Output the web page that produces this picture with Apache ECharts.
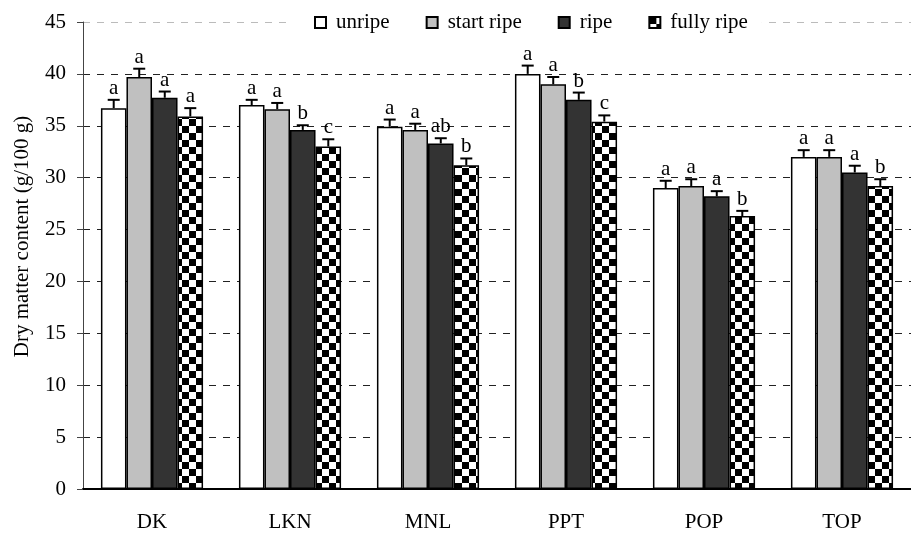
<!DOCTYPE html>
<html>
<head>
<meta charset="utf-8">
<style>
  html, body { margin: 0; padding: 0; background: #fff; }
  #chart { width: 911px; height: 533px; }
</style>
<script src="https://cdn.jsdelivr.net/npm/echarts@6/dist/echarts.min.js"></script>
</head>
<body>
<div id="chart"></div>
<script>
// Cultivars along the x axis
const categories = ['DK', 'LKN', 'MNL', 'PPT', 'POP', 'TOP'];
const stages = ['unripe', 'start ripe', 'ripe', 'fully ripe'];

// Mean dry matter content (g/100 g) per ripening stage
const unripe    = [36.7, 37.0, 34.9, 40.0, 29.0, 32.0];
const startRipe = [39.7, 36.6, 34.6, 39.0, 29.2, 32.0];
const ripe      = [37.7, 34.6, 33.3, 37.5, 28.2, 30.5];
const fullyRipe = [35.9, 33.0, 31.2, 35.4, 26.3, 29.2];

// Standard errors (upper whisker only)
const unripeErr    = [0.8, 0.5, 0.7, 0.8, 0.7, 0.65];
const startRipeErr = [0.8, 0.6, 0.6, 0.7, 0.65, 0.65];
const ripeErr      = [0.6, 0.45, 0.5, 0.7, 0.5, 0.65];
const fullyRipeErr = [0.8, 0.7, 0.65, 0.6, 0.5, 0.65];

// Significance letters
const unripeSig    = ['a', 'a', 'a', 'a', 'a', 'a'];
const startRipeSig = ['a', 'a', 'a', 'a', 'a', 'a'];
const ripeSig      = ['a', 'b', 'ab', 'b', 'a', 'a'];
const fullyRipeSig = ['a', 'c', 'b', 'c', 'b', 'b'];

// Y axis ticks
const yTicks = [0, 5, 10, 15, 20, 25, 30, 35, 40, 45];

const FONT = 'Liberation Serif';
const FS = 21;
const GAP = 0.26;   // category gap fraction

// Checkerboard fill for the fully ripe bars
function checker() {
  const c = document.createElement('canvas');
  const s = 7;
  c.width = s * 2; c.height = s * 2;
  const g = c.getContext('2d');
  g.fillStyle = '#fff'; g.fillRect(0, 0, s * 2, s * 2);
  g.fillStyle = '#000';
  g.fillRect(0, 0, s, s);
  g.fillRect(s, s, s, s);
  return c;
}

const means = [unripe, startRipe, ripe, fullyRipe];
const errs = [unripeErr, startRipeErr, ripeErr, fullyRipeErr];
const sigs = [unripeSig, startRipeSig, ripeSig, fullyRipeSig];
const fills = ['#ffffff', '#c0c0c0', '#333333', { image: checker(), repeat: 'repeat' }];

const barSeries = stages.map((name, i) => ({
  name: name,
  type: 'bar',
  data: means[i],
  barGap: '0%',
  barCategoryGap: (GAP * 100) + '%',
  itemStyle: { color: fills[i], borderColor: '#000', borderWidth: 1.5 },
  z: 2
}));

// Whiskers and letters, positioned with the category axis band
const errRows = [];
stages.forEach((s, i) => {
  categories.forEach((c, j) => {
    errRows.push([j, means[i][j], errs[i][j], i, sigs[i][j]]);
  });
});

const errSeries = {
  type: 'custom',
  data: errRows,
  z: 5,
  silent: true,
  renderItem: function (params, api) {
    const cat = api.value(0);
    const mean = api.value(1);
    const err = api.value(2);
    const k = api.value(3);
    const letter = errRows[params.dataIndex][4];
    const band = api.size([1, 0])[0];
    const bw = band * (1 - GAP) / 4;
    const base = api.coord([cat, mean]);
    const x = base[0] + (k - 1.5) * bw;
    const top = api.coord([cat, mean + err])[1];
    const y0 = base[1];
    const half = 6;
    const st = { stroke: '#000', lineWidth: 2 };
    return {
      type: 'group',
      children: [
        { type: 'line', shape: { x1: x, y1: y0, x2: x, y2: top }, style: st },
        { type: 'line', shape: { x1: x - half, y1: top, x2: x + half, y2: top }, style: st },
        {
          type: 'text',
          x: x, y: top - 1,
          style: {
            text: letter, fill: '#000', font: FS + 'px "' + FONT + '"',
            align: 'center', verticalAlign: 'bottom'
          }
        }
      ]
    };
  }
};

const chart = echarts.init(document.getElementById('chart'), null, { renderer: 'canvas' });

chart.setOption({
  animation: false,
  backgroundColor: '#fff',
  textStyle: { fontFamily: FONT, color: '#000' },
  grid: { left: 83, right: -13, top: 22, bottom: 43, containLabel: false },
  legend: {
    data: stages,
    left: 290, top: 12,
    padding: [0, 14, 0, 24],
    backgroundColor: '#fff',
    itemWidth: 11, itemHeight: 11,
    itemGap: 36,
    icon: 'rect',
    selectedMode: false,
    textStyle: { fontFamily: FONT, fontSize: FS, color: '#000', padding: [0, 0, 0, 5] }
  },
  xAxis: {
    type: 'category',
    data: categories,
    axisLine: { lineStyle: { color: '#000', width: 2 } },
    axisTick: { length: 6, lineStyle: { color: '#777', width: 1 } },
    axisLabel: { fontFamily: FONT, fontSize: FS, color: '#000', margin: 23 }
  },
  yAxis: {
    type: 'value',
    min: yTicks[0], max: yTicks[yTicks.length - 1], interval: yTicks[1] - yTicks[0],
    name: 'Dry matter content (g/100 g)',
    nameLocation: 'middle',
    nameGap: 50,
    nameTextStyle: { fontFamily: FONT, fontSize: FS, color: '#000', padding: [0, 0, 0, 38] },
    axisLine: { show: true, lineStyle: { color: '#444', width: 1 } },
    axisTick: { show: true, length: 6, lineStyle: { color: '#444' } },
    axisLabel: { fontFamily: FONT, fontSize: FS, color: '#000', margin: 17 },
    splitLine: {
      show: true,
      lineStyle: {
        color: ['#222', '#222', '#222', '#222', '#222', '#222', '#222', '#222', '#222', '#bbb'],
        type: [7, 7], width: 1
      }
    }
  },
  series: barSeries.concat([errSeries])
});
</script>
</body>
</html>
